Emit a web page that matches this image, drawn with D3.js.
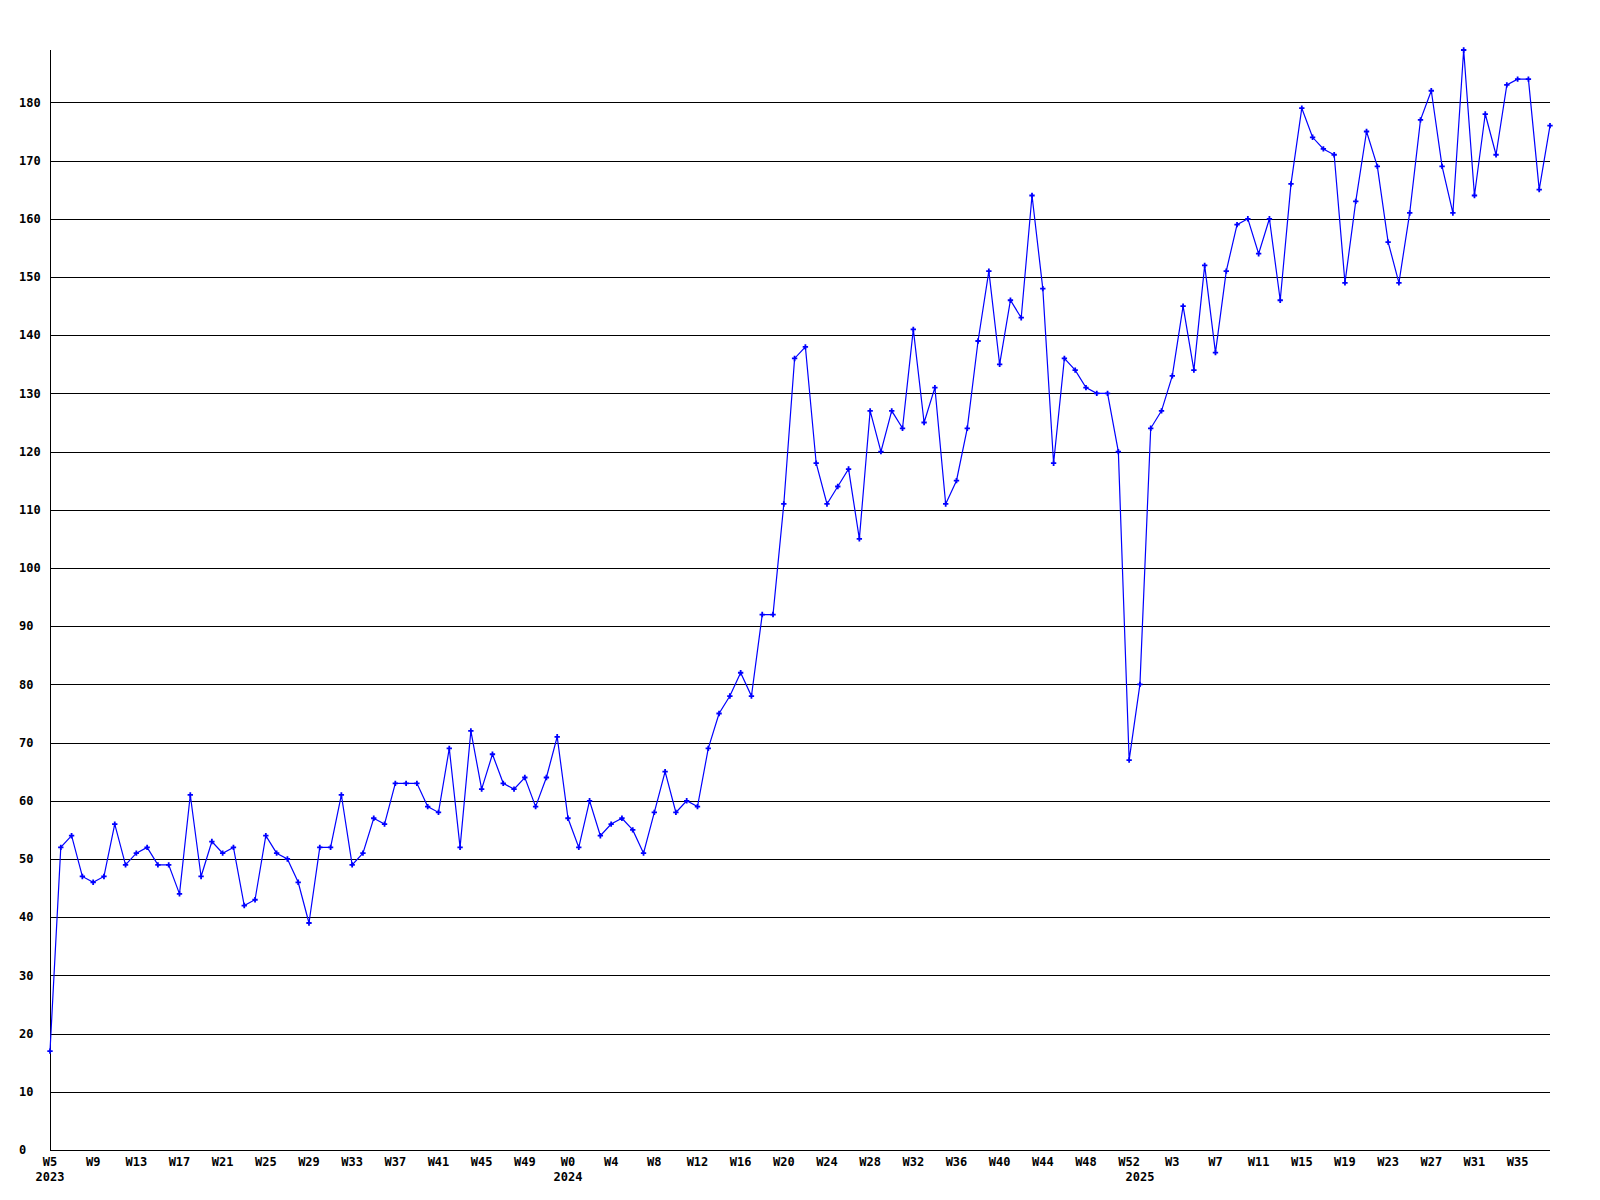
<!DOCTYPE html>
<html lang="en">
<head>
    <meta charset="UTF-8">
    <title>Weekly count</title>
    <script src="https://d3js.org/d3.v7.min.js"></script>
    <style>
        body { margin: 0; background: #fff; }
        svg text { font-family: "DejaVu Sans Mono", monospace; font-weight: bold; font-size: 12px; fill: #000; }
    </style>
</head>
<body>

<svg id="chart" width="1600" height="1200"></svg>

<script>
    // one entry per week, W5 2023 .. W38 2025
    var years = [2023, 2024, 2025];
    var firstWeek = [5, 0, 0];
    var lastWeek = [52, 52, 38];

    var values = [
        17, 52, 54, 47, 46, 47, 56, 49, 51, 52, 49, 49, 44, 61, 47, 53, 51, 52, 42, 43,
        54, 51, 50, 46, 39, 52, 52, 61, 49, 51, 57, 56, 63, 63, 63, 59, 58, 69, 52, 72,
        62, 68, 63, 62, 64, 59, 64, 71, 57, 52, 60, 54, 56, 57, 55, 51, 58, 65, 58, 60,
        59, 69, 75, 78, 82, 78, 92, 92, 111, 136, 138, 118, 111, 114, 117, 105, 127, 120, 127, 124,
        141, 125, 131, 111, 115, 124, 139, 151, 135, 146, 143, 164, 148, 118, 136, 134, 131, 130, 130, 120,
        67, 80, 124, 127, 133, 145, 134, 152, 137, 151, 159, 160, 154, 160, 146, 166, 179, 174, 172, 171,
        149, 163, 175, 169, 156, 149, 161, 177, 182, 169, 161, 189, 164, 178, 171, 183, 184, 184, 165, 176
    ];

    var yTicks = [0, 10, 20, 30, 40, 50, 60, 70, 80, 90, 100, 110, 120, 130, 140, 150, 160, 170, 180];
    var labelEvery = 4;

    // build the week list from the year spans
    var weeks = [];
    years.forEach(function (yr, i) {
        d3.range(firstWeek[i], lastWeek[i] + 1).forEach(function (w) {
            weeks.push({year: yr, week: w, first: w === firstWeek[i]});
        });
    });
    var data = values.map(function (v, i) {
        return {i: i, value: v, year: weeks[i].year, week: weeks[i].week, first: weeks[i].first};
    });

    var svg = d3.select("#chart"),
        plotLeft = 50, plotRight = 1550, plotTop = 50, plotBottom = 1150;

    var x = d3.scaleLinear()
        .domain([0, values.length - 1])
        .range([plotLeft, plotRight]);

    var y = d3.scaleLinear()
        .domain([0, d3.max(values)])
        .range([plotBottom, plotTop]);

    // horizontal grid
    svg.append("g")
        .selectAll("line")
        .data(yTicks.filter(function (t) { return t > 0; }))
        .enter().append("line")
        .attr("x1", plotLeft)
        .attr("x2", plotRight)
        .attr("y1", function (d) { return Math.round(y(d)) + 0.5; })
        .attr("y2", function (d) { return Math.round(y(d)) + 0.5; })
        .attr("stroke", "#000")
        .attr("stroke-width", 1);

    // axes
    svg.append("line")
        .attr("x1", plotLeft + 0.5).attr("x2", plotLeft + 0.5)
        .attr("y1", plotTop).attr("y2", plotBottom)
        .attr("stroke", "#000");
    svg.append("line")
        .attr("x1", plotLeft).attr("x2", plotRight)
        .attr("y1", plotBottom + 0.5).attr("y2", plotBottom + 0.5)
        .attr("stroke", "#000");

    // y labels, left aligned
    svg.append("g")
        .selectAll("text")
        .data(yTicks)
        .enter().append("text")
        .attr("x", 19)
        .attr("y", function (d) { return y(d); })
        .attr("dy", "0.35em")
        .text(function (d) { return d; });

    // week labels every 4th point
    var xlab = svg.append("g");
    xlab.selectAll("text.wk")
        .data(data.filter(function (d) { return d.i % labelEvery === 0; }))
        .enter().append("text")
        .attr("class", "wk")
        .attr("x", function (d) { return x(d.i); })
        .attr("y", 1166)
        .attr("text-anchor", "middle")
        .text(function (d) { return "W" + d.week; });

    xlab.selectAll("text.yr")
        .data(data.filter(function (d) { return d.first; }))
        .enter().append("text")
        .attr("class", "yr")
        .attr("x", function (d) { return x(d.i); })
        .attr("y", 1181)
        .attr("text-anchor", "middle")
        .text(function (d) { return d.year; });

    var line = d3.line()
        .x(function (d) { return x(d.i); })
        .y(function (d) { return y(d.value); });

    svg.append("path")
        .datum(data)
        .attr("fill", "none")
        .attr("stroke", "#0000ff")
        .attr("stroke-width", 1.2)
        .attr("d", line);

    svg.append("g")
        .selectAll("path")
        .data(data)
        .enter().append("path")
        .attr("transform", function (d) { return "translate(" + x(d.i) + "," + y(d.value) + ")"; })
        .attr("d", d3.symbol().type(d3.symbolCross).size(16))
        .attr("fill", "#0000ff");
</script>

</body>
</html>
